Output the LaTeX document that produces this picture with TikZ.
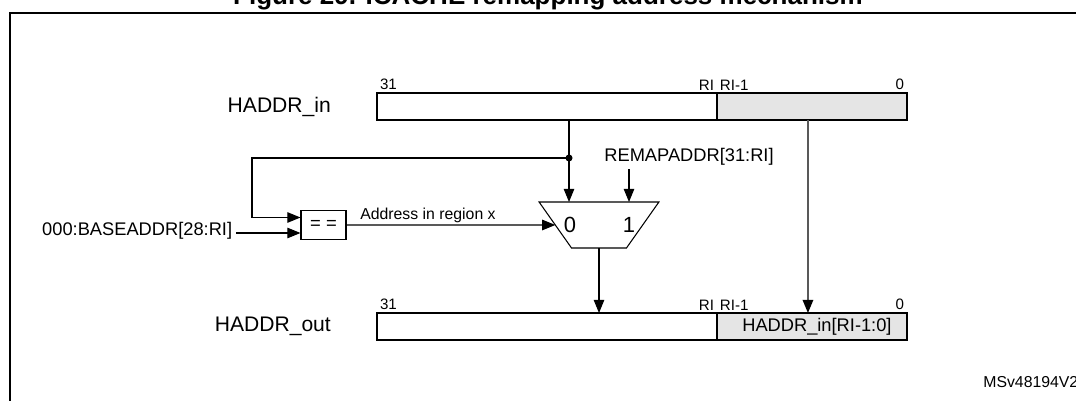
\documentclass[tikz,border=0pt]{standalone}
\usepackage{fontspec}
\setmainfont{Liberation Sans}
\usetikzlibrary{positioning, arrows.meta, shapes.geometric}

\begin{document}
\begin{tikzpicture}[
        x=0.02cm, y=-0.02cm,
        reg/.style={rectangle, draw, line width=0.9pt, minimum height=0.54cm, inner sep=0pt, outer sep=0pt, font=\fontsize{10.4}{12}\selectfont},
        reghi/.style={reg, minimum width=6.8cm},
        reglo/.style={reg, minimum width=3.8cm, fill=black!10},
        cmpbox/.style={rectangle, draw, line width=0.6pt, minimum width=0.9cm, minimum height=0.58cm, inner sep=0pt, font=\fontsize{10.5}{12}\selectfont},
        mux/.style={trapezium, draw, line width=0.6pt, trapezium angle=63, trapezium stretches=true, shape border rotate=180, minimum width=2.4cm, minimum height=0.92cm, inner sep=2pt, outer sep=0pt},
        bigtxt/.style={font=\fontsize{12}{14}\selectfont},
        txt/.style={font=\fontsize{10.4}{12}\selectfont, inner sep=2pt},
        addr/.style={font=\fontsize{9}{11}\selectfont, inner sep=1pt},
        bitno/.style={font=\fontsize{8.6}{10}\selectfont, inner sep=1.5pt},
        arrow/.style={line width=0.6pt, -{Triangle[length=7.5pt,width=6pt,color=black]}},
        grayarrow/.style={arrow, draw=black!65, line width=0.9pt},
        frame/.style={line width=1.4pt}
    ]
    \useasboundingbox (0,0) rectangle (1076,401);
    \node[font=\bfseries\fontsize{14.8}{16}\selectfont, anchor=base] (title) at (548,4.5) {Figure 29. ICACHE remapping address mechanism};
    \draw[frame] (1080,13) -- (10,13) -- (10,410);

    \node[reghi] (inhi) at (547,106.5) {};
    \node[reglo, right=0pt of inhi] (inlo) {};
    \node[reghi] (outhi) at (547,326.5) {};
    \node[reglo, right=0pt of outhi] (outlo) {\hspace{0.2cm}HADDR\_in[RI-1:0]};

    \node[bigtxt, left=0.8cm of inhi] (inname) {HADDR\_in};
    \node[bigtxt, left=0.8cm of outhi] (outname) {HADDR\_out};

    \node[bitno, anchor=south west] (inmsb) at (inhi.north west) {31};
    \node[bitno, anchor=south east] (inri) at (inhi.north east) {RI};
    \node[bitno, anchor=south west] (inri1) at (inlo.north west) {RI-1};
    \node[bitno, anchor=south east] (inlsb) at (inlo.north east) {0};
    \node[bitno, anchor=south west] (outmsb) at (outhi.north west) {31};
    \node[bitno, anchor=south east] (outri) at (outhi.north east) {RI};
    \node[bitno, anchor=south west] (outri1) at (outlo.north west) {RI-1};
    \node[bitno, anchor=south east] (outlsb) at (outlo.north east) {0};

    \node[cmpbox] (cmp) at (323.5,225) {= =};
    \node[txt, anchor=east] (base) at (236,231) {000:BASEADDR[28:RI]};
    \node[mux] (mux) at (599,225) {\phantom{0}};
    \node[txt, font=\fontsize{12.5}{14}\selectfont] (sel0) at (570,225) {0};
    \node[txt, font=\fontsize{12.5}{14}\selectfont] (sel1) at (629,225) {1};
    \node[txt] (remap) at (689,157) {REMAPADDR[31:RI]};
    \node[font=\fontsize{9}{11}\selectfont, anchor=base west, inner sep=0pt] (ref) at (983,388) {MSv48194V2};

    \coordinate (tap) at (569,158);
    \coordinate (loop) at (252,158);
    \coordinate (cmpin1) at ([yshift=0.15cm]cmp.west);
    \coordinate (cmpin2) at ([yshift=-0.16cm]cmp.west);

    \draw[arrow] (tap |- inhi.south) -- (tap |- mux.north);
    \fill (tap) circle (2pt);
    \draw[arrow] (tap) -- (loop) |- (cmpin1);
    \draw[arrow] (base.east |- cmpin2) -- (cmpin2);
    \draw[arrow] (cmp) -- node[addr, above, pos=0.39] {Address in region x} (mux);
    \draw[arrow] (remap.south -| sel1) -- (sel1 |- mux.north);
    \draw[arrow] (mux.south) -- (mux.south |- outhi.north);
    \draw[grayarrow] ([xshift=-0.08cm]inlo.south) -- ([xshift=-0.08cm]inlo.south |- outlo.north);
\end{tikzpicture}
\end{document}
